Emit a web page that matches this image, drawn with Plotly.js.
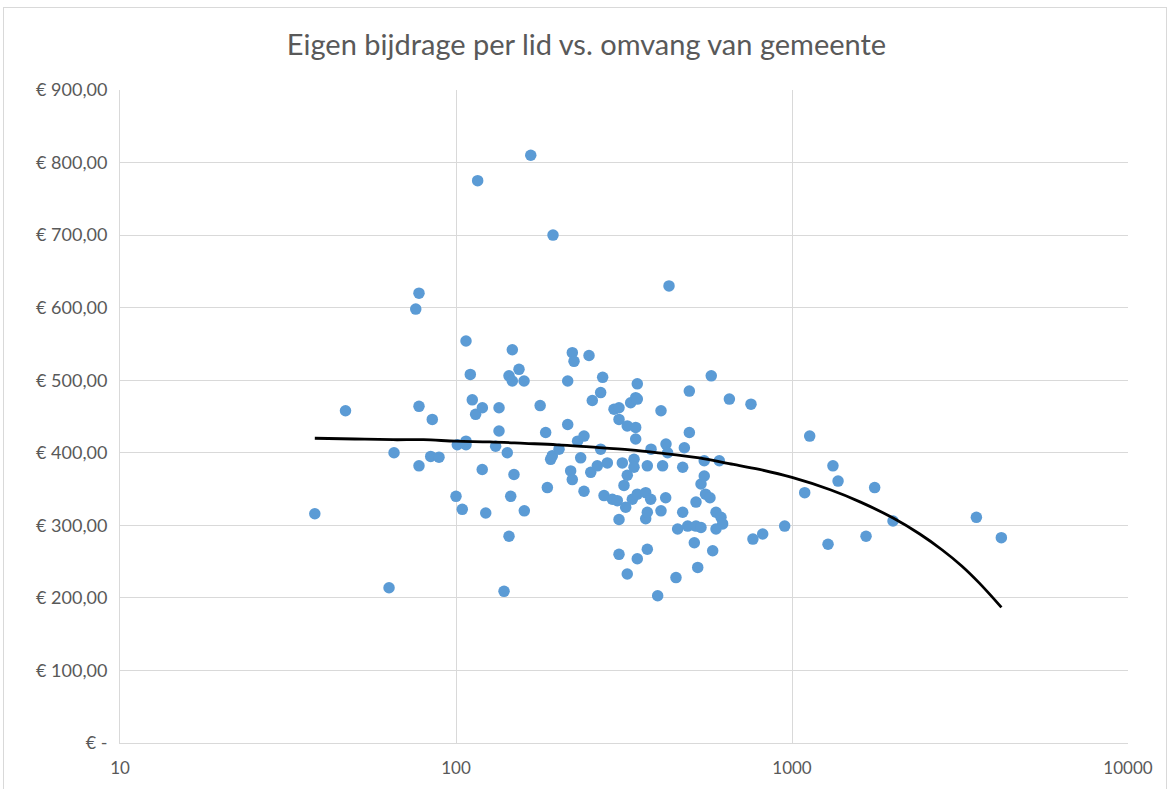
<!DOCTYPE html>
<html>
<head>
<meta charset="utf-8">
<script src="https://cdn.plot.ly/plotly-3.0.1.min.js"></script>
<style>
html,body{margin:0;padding:0;background:#fff;}
#frame{position:absolute;left:3px;top:7px;width:1164px;height:800px;border:1px solid #d9d9d9;box-sizing:border-box;}
#chart{position:absolute;left:0;top:0;width:1173px;height:789px;}
</style>
</head>
<body>
<div id="frame"></div>
<div id="chart"></div>
<script>
// Omvang van gemeente (leden) — x values
const memberCount = [
  38, 46.9, 63.2, 65.4, 75.9, 77.6, 77.6, 77.6, 85.0, 84.1,
  89.0, 100, 100.9, 104.4, 107.1, 107.1, 107.1, 110.3, 111.8, 114.4,
  116, 119.8, 119.7, 122.6, 131.2, 134.3, 134.3, 139, 142.1, 143.8,
  145.5, 143.8, 147.1, 147.1, 148.8, 154, 159.4, 159.7, 166.9, 178,
  184.9, 187, 191.3, 193.5, 194.4, 202.6, 215, 215, 219.4, 221.9,
  221.9, 224.5, 230.1, 235, 240.4, 240.4, 248.8, 251.8, 254.5, 263.4,
  269.5, 269.5, 273.2, 275.8, 282.1, 291.9, 295.3, 302.1, 305.6, 305.6,
  305.6, 305.6, 312.6, 316.2, 319.9, 323.4, 323.4, 323.4, 331, 334.8,
  338.7, 338.7, 342.6, 342.6, 342.6, 346.4, 346.4, 346.4, 346.4, 366.9,
  366.9, 371, 371, 371, 379.7, 380.6, 398.3, 407.5, 407.5, 412,
  420.8, 421.7, 426.4, 430.5, 451.6, 456.7, 472.8, 472.8, 478.2, 489.3,
  494.8, 494.8, 512, 518, 518, 524.1, 536, 536, 548, 548,
  553, 570, 575, 580.7, 594, 594, 607.6, 614.6, 621.7, 651,
  755, 765, 818, 951, 1091, 1129, 1280, 1324, 1371, 1661,
  1762, 1998, 3538, 4198
];
// Eigen bijdrage per lid (EUR) — y values
const contribution = [
  316, 458, 214, 400, 598, 620, 464, 382, 446, 395,
  394, 340, 411, 322, 411, 416, 554, 508, 473, 453,
  775, 462, 377, 317, 409, 462, 430, 209, 400, 285,
  340, 506, 542, 499, 370, 515, 499, 320, 810, 465,
  428, 352, 391, 396, 700, 405, 499, 439, 375, 538,
  363, 526, 416, 393, 423, 347, 534, 373, 472, 382,
  483, 405, 504, 341, 386, 336, 460, 334, 462, 446,
  308, 260, 386, 355, 325, 437, 369, 233, 469, 336,
  391, 380, 476, 435, 419, 495, 474, 343, 254, 345,
  309, 382, 318, 267, 336, 405, 203, 458, 320, 382,
  338, 412, 400, 630, 228, 295, 380, 318, 407, 299,
  485, 428, 276, 299, 332, 242, 297, 357, 389, 368,
  343, 338, 506, 265, 318, 295, 389, 311, 302, 474,
  467, 281, 288, 299, 345, 423, 274, 382, 361, 285,
  352, 306, 311, 283
];
// Trendlijn
const trendX = [38, 50, 65, 80, 100, 126, 160, 200, 250, 330, 400, 530, 650, 800, 1000, 1300, 1600, 2000, 2400, 2800, 3200, 3600, 4200];
const trendY = [420, 419, 418, 418, 416, 415, 413, 411, 408, 404, 400, 393, 385, 377, 366, 349, 332, 310, 288, 266, 244, 221, 187];

const yTickVals = [0, 100, 200, 300, 400, 500, 600, 700, 800, 900];
const yTickText = ['€ -', '€ 100,00', '€ 200,00', '€ 300,00', '€ 400,00', '€ 500,00', '€ 600,00', '€ 700,00', '€ 800,00', '€ 900,00'];
const xTickVals = [10, 100, 1000, 10000];
const xTickText = ['10', '100', '1000', '10000'];

const font = 'Lato, "Open Sans", "Noto Sans", sans-serif';

const data = [
  {
    type: 'scatter', mode: 'markers',
    x: memberCount, y: contribution,
    marker: {color: '#5b9bd5', size: 11.5},
    hoverinfo: 'x+y', showlegend: false
  },
  {
    type: 'scatter', mode: 'lines',
    x: trendX, y: trendY,
    line: {color: '#000000', width: 2.8, shape: 'spline'},
    showlegend: false, hoverinfo: 'skip'
  }
];

const layout = {
  width: 1173, height: 789,
  margin: {l: 120, r: 45, t: 90, b: 46},
  paper_bgcolor: 'rgba(0,0,0,0)',
  plot_bgcolor: '#ffffff',
  font: {family: font, color: '#595959', size: 17},
  title: {
    text: 'Eigen bijdrage per lid vs. omvang van gemeente',
    font: {family: font, size: 29, color: '#595959'},
    x: 0.5, xanchor: 'center', y: 0.943, yanchor: 'middle'
  },
  xaxis: {
    type: 'log', range: [1, 4],
    tickvals: xTickVals, ticktext: xTickText,
    showgrid: true, gridcolor: '#d9d9d9', gridwidth: 1,
    showline: true, linecolor: '#d9d9d9', linewidth: 1,
    zeroline: false, ticks: '', ticklabelstandoff: 10,
    tickfont: {family: font, size: 17, color: '#595959'},
    mirror: false
  },
  yaxis: {
    range: [0, 900],
    tickvals: yTickVals, ticktext: yTickText,
    showgrid: true, gridcolor: '#d9d9d9', gridwidth: 1,
    showline: true, linecolor: '#d9d9d9', linewidth: 1,
    zeroline: false, ticks: '', ticklabelstandoff: 8,
    tickfont: {family: font, size: 18, color: '#595959'}
  }
};

Plotly.newPlot('chart', data, layout, {displayModeBar: false, staticPlot: true});
</script>
</body>
</html>
